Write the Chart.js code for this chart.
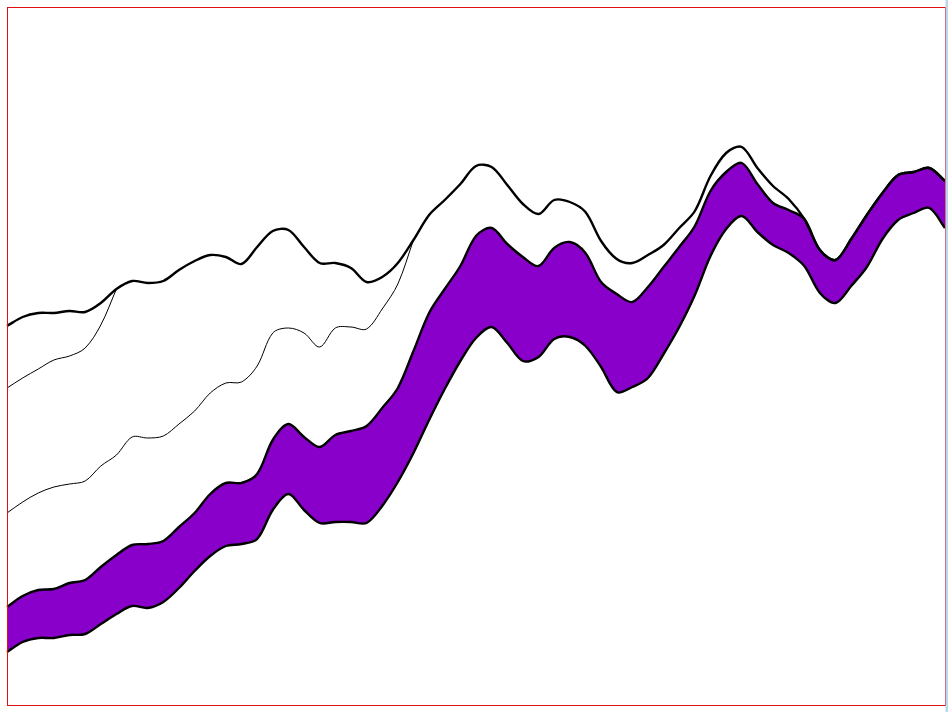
<!DOCTYPE html>
<html>
<head>
<meta charset="utf-8">
<script src="https://cdn.jsdelivr.net/npm/chart.js@4/dist/chart.umd.min.js"></script>
<style>
  html, body { margin: 0; padding: 0; background: #ffffff; }
  #wrap { width: 948px; height: 712px; }
  canvas { display: block; }
</style>
</head>
<body>
<div id="wrap"><canvas id="c" width="948" height="712"></canvas></div>
<script>
// Sample positions (61 evenly spaced steps)
const steps = Array.from({length: 61}, (_, i) => String(i));

// Upper thick envelope line
const upperLine = [379,388,392,392,394,393,402,416,424,422,424,435,444,450,448,441,458,474,475,458,
                   442,442,437,423,428,442,465,490,505,521,539,538,520,501,491,505,503,493,464,446,
                   442,450,460,477,494,529,552,558,537,519,506,486,455,445,466,490,512,530,533,537,524];

// Thin line joining the upper line early
const thinLineA = [317,327,336,345,349,357,380,416];

// Thin line joining the upper line mid-way
const thinLineB = [192,203,212,218,221,224,239,250,268,267,269,281,294,312,322,323,339,372,377,372,
                   358,377,378,376,396,421,465];

// Purple band: upper edge
const bandHigh = [98,109,115,116,122,125,138,150,160,161,164,178,192,211,222,222,231,265,281,268,
                  258,270,274,279,297,317,354,392,416,439,469,477,461,448,439,457,463,452,423,411,
                  403,418,438,458,479,514,533,542,521,502,495,486,455,445,466,490,512,530,533,537,524];

// Purple band: lower edge
const bandLow = [53,63,67,67,70,71,81,91,99,97,103,117,134,149,159,161,166,195,211,195,
                 182,183,183,182,199,223,252,285,316,344,367,378,362,344,348,366,368,359,338,313,
                 318,327,351,378,410,449,476,489,473,460,452,439,412,402,419,438,466,485,492,497,477];

const framePlugin = {
  id: 'frame',
  afterDraw(chart) {
    const ctx = chart.ctx, a = chart.chartArea;
    ctx.save();
    ctx.strokeStyle = '#e01010';
    ctx.lineWidth = 1;
    ctx.strokeRect(a.left + 0.5, a.top + 0.5, a.right - a.left, a.bottom - a.top);
    ctx.fillStyle = '#bdd6ee';
    ctx.fillRect(a.right + 0.5, 0, chart.width - a.right, chart.height);
    ctx.restore();
  }
};

const common = { borderColor: '#000', pointRadius: 0, tension: 0.33 };

new Chart(document.getElementById('c'), {
  type: 'line',
  data: {
    labels: steps,
    datasets: [
      Object.assign({ data: upperLine, borderWidth: 2.4, fill: false, order: 1 }, common),
      Object.assign({ data: thinLineA, borderWidth: 1, fill: false, order: 2 }, common),
      Object.assign({ data: thinLineB, borderWidth: 1, fill: false, order: 3 }, common),
      Object.assign({ data: bandHigh, borderWidth: 2.4, fill: '+1', backgroundColor: 'rgb(137,0,202)', order: 4 }, common),
      Object.assign({ data: bandLow, borderWidth: 2.4, fill: false, order: 5 }, common)
    ]
  },
  options: {
    responsive: false,
    animation: false,
    layout: { padding: { left: 7, top: 7, right: 3, bottom: 7 } },
    plugins: {
      legend: { display: false },
      tooltip: { enabled: false },
      title: { display: false },
      filler: { drawTime: 'beforeDatasetsDraw' }
    },
    scales: {
      x: { display: false, offset: false },
      y: { display: false, min: 0, max: 698 }
    }
  },
  plugins: [framePlugin]
});
</script>
</body>
</html>
